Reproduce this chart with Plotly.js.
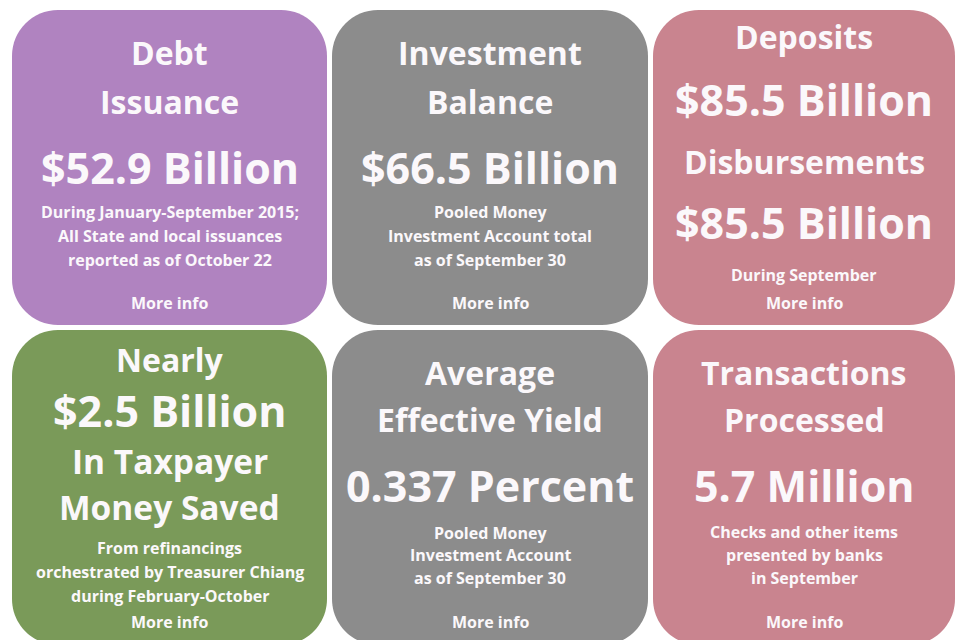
<!DOCTYPE html>
<html>
<head>
<meta charset="utf-8">
<script src="https://cdn.plot.ly/plotly-3.0.1.min.js"></script>
<style>html,body{margin:0;padding:0;background:#fff;}#chart{width:956px;height:640px;}</style>
</head>
<body>
<div id="chart"></div>
<script>
// ---- content (text of each tile) ----
const tileNames = ["Debt Issuance","Investment Balance","Deposits / Disbursements","Taxpayer Money Saved","Average Effective Yield","Transactions Processed"];
const tileColors = ["#b083c0","#8c8c8c","#c9848f","#7a9a59","#8c8c8c","#c9848f"];
const debtLines = ["Debt","Issuance","$52.9 Billion","During January-September 2015;","All State and local issuances","reported as of October 22","More info"];
const investLines = ["Investment","Balance","$66.5 Billion","Pooled Money","Investment Account total","as of September 30","More info"];
const depositLines = ["Deposits","$85.5 Billion","Disbursements","$85.5 Billion","During September","More info"];
const savedLines = ["Nearly","$2.5 Billion","In Taxpayer","Money Saved","From refinancings","orchestrated by Treasurer Chiang","during February-October","More info"];
const yieldLines = ["Average","Effective Yield","0.337 Percent","Pooled Money","Investment Account","as of September 30","More info"];
const transLines = ["Transactions","Processed","5.7 Million","Checks and other items","presented by banks","in September","More info"];
const tileLines = [debtLines, investLines, depositLines, savedLines, yieldLines, transLines];

// ---- layout / style (kept separate from the content) ----
const colX0 = [12, 332, 653], colX1 = [327, 648, 955];
const rowY0 = [10, 330], rowY1 = [325, 645];
const radius = 46;
const sizes = {head: 32, big: 43, note: 16, link: 16, head2: 33.5};
const kinds = [
  ["head","head","big","note","note","note","link"],
  ["head","head","big","note","note","note","link"],
  ["head","big","head","big","note","link"],
  ["head","big","head2","head2","note","note","note","link"],
  ["head","head","big","note","note","note","link"],
  ["head","head","big","note","note","note","link"]
];
const baselines = [
  [63,112,182,217,241,265,308],
  [63,112,182,217,241,265,308],
  [47,114,172,237,280,308],
  [370,425,472,518,553,577,601,627],
  [383,430,500,538,560,583,627],
  [383,430,500,537,560,583,627]
];

const FONT = "'Open Sans', sans-serif";
const shapes = [], annotations = [];
tileLines.forEach((lines, i) => {
  const c = i % 3, r = Math.floor(i / 3);
  const x0 = colX0[c], x1 = colX1[c], y0 = rowY0[r], y1 = rowY1[r];
  const R = radius, k = R * 0.552;
  const p = `M ${x0+R},${y0} L ${x1-R},${y0} C ${x1-R+k},${y0} ${x1},${y0+R-k} ${x1},${y0+R} ` +
            `L ${x1},${y1-R} C ${x1},${y1-R+k} ${x1-R+k},${y1} ${x1-R},${y1} ` +
            `L ${x0+R},${y1} C ${x0+R-k},${y1} ${x0},${y1-R+k} ${x0},${y1-R} ` +
            `L ${x0},${y0+R} C ${x0},${y0+R-k} ${x0+R-k},${y0} ${x0+R},${y0} Z`;
  shapes.push({type:"path", xref:"x", yref:"y", path:p, fillcolor:tileColors[i], line:{width:0}, layer:"below"});
  const cx = (x0 + x1) / 2;
  lines.forEach((t, j) => {
    const s = sizes[kinds[i][j]];
    annotations.push({
      x: cx, y: baselines[i][j] - 0.34 * s, xref:"x", yref:"y",
      text: t, showarrow:false, xanchor:"center", yanchor:"middle",
      font:{family:FONT, size:s, color:"#fbf8fb", weight:700}
    });
  });
});

// invisible trace so the axes exist (one point per tile centre)
const tileCx = tileNames.map((_, i) => (colX0[i%3] + colX1[i%3]) / 2);
const tileCy = tileNames.map((_, i) => (rowY0[Math.floor(i/3)] + rowY1[Math.floor(i/3)]) / 2);

Plotly.newPlot("chart", [{
  x: tileCx, y: tileCy, text: tileNames, mode:"markers", marker:{opacity:0}, hoverinfo:"text", showlegend:false
}], {
  width:956, height:640,
  margin:{l:0, r:0, t:0, b:0},
  paper_bgcolor:"#ffffff", plot_bgcolor:"#ffffff",
  xaxis:{range:[0,956], visible:false, fixedrange:true},
  yaxis:{range:[640,0], visible:false, fixedrange:true},
  shapes, annotations, showlegend:false
}, {displayModeBar:false, staticPlot:true});
</script>
</body>
</html>
